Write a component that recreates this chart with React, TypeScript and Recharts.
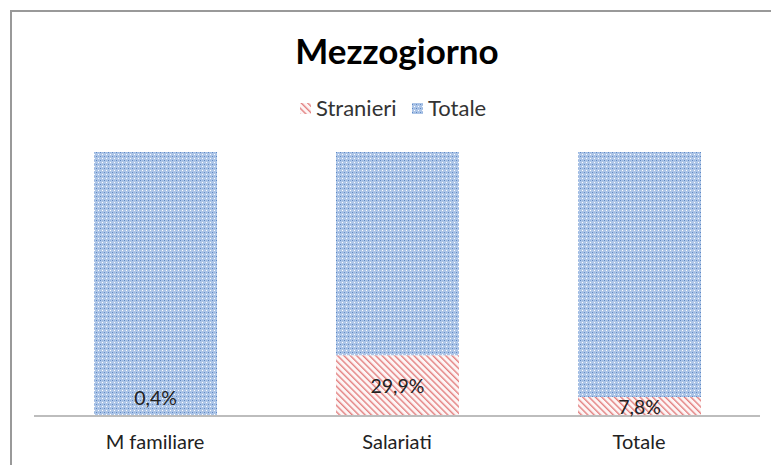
import { Bar, BarChart, Customized, LabelList, XAxis, YAxis } from "recharts";

const categories = ["M familiare", "Salariati", "Totale"];
const stranieri = [0.4, 29.9, 7.8];
const totale = [100, 100, 100];
const seriesNames = ["Stranieri", "Totale"];
const title = "Mezzogiorno";

const data = categories.map((name, i) => ({
  name,
  stranieri: stranieri[i],
  totale: totale[i],
}));

const FONT = "Lato, 'Open Sans', sans-serif";

const fmt = (v: number) => `${v.toFixed(1).replace(".", ",")}%`;

const renderLabel = (props: any) => {
  const { x, y, width, height, value } = props;
  const cx = Number(x) + Number(width) / 2;
  let cy = Number(y) + Number(height) / 2;
  if (Number(height) < 8) cy = Number(y) + Number(height) - 19;
  return (
    <text
      x={cx}
      y={cy}
      textAnchor="middle"
      dominantBaseline="central"
      fontFamily={FONT}
      fontSize={19.5}
      fill="#222"
    >
      {fmt(Number(value))}
    </text>
  );
};

const Header = () => (
  <g>
    <text
      x={397}
      y={64}
      textAnchor="middle"
      fontFamily={FONT}
      fontWeight="bold"
      fontSize={35}
      fill="#000"
    >
      {title}
    </text>
    <rect x={300} y={103} width={11} height={11} fill="url(#redHatch)" />
    <text x={316} y={116} fontFamily={FONT} fontSize={22} fill="#333">
      {seriesNames[0]}
    </text>
    <rect x={412} y={103} width={11} height={11} fill="url(#blueDots)" />
    <text x={428} y={116} fontFamily={FONT} fontSize={22} fill="#333">
      {seriesNames[1]}
    </text>
  </g>
);

export default function App() {
  return (
    <div
      style={{
        position: "absolute",
        left: 0,
        top: 0,
        width: 771,
        height: 465,
        overflow: "hidden",
        background: "#fff",
      }}
    >
      <div
        style={{
          position: "absolute",
          left: 10,
          top: 10,
          width: 800,
          height: 500,
          borderLeft: "2px solid #999",
          borderTop: "2px solid #999",
        }}
      />
      <div style={{ position: "absolute", left: 0, top: 0 }}>
        <BarChart
          width={771}
          height={465}
          data={data}
          stackOffset="expand"
          margin={{ top: 152, right: 11, bottom: 0, left: 34 }}
          barCategoryGap={0}
        >
          <defs>
            <pattern
              id="blueDots"
              width={4}
              height={4}
              patternUnits="userSpaceOnUse"
            >
              <rect width={4} height={4} fill="#adc5e7" />
              <rect x={0} y={0} width={1} height={1} fill="#5d88c4" />
              <rect x={2} y={2} width={1} height={1} fill="#ffffff" />
              <rect x={2} y={0} width={1} height={1} fill="#9ab7e0" />
            </pattern>
            <pattern
              id="redHatch"
              width={4.5}
              height={4.5}
              patternUnits="userSpaceOnUse"
              patternTransform="rotate(-45)"
            >
              <rect width={4.5} height={4.5} fill="#fdf5f5" />
              <rect x={0} y={0} width={1.4} height={4.5} fill="#e38080" />
            </pattern>
          </defs>
          <XAxis
            dataKey="name"
            height={49}
            tickLine={false}
            axisLine={{ stroke: "#bdbdbd", strokeWidth: 2 }}
            tick={{ fontFamily: FONT, fontSize: 20, fill: "#222" }}
            dy={11}
          />
          <YAxis hide domain={[0, 1]} />
          <Bar
            dataKey="stranieri"
            stackId="a"
            fill="url(#redHatch)"
            barSize={123}
            isAnimationActive={false}
          >
            <LabelList dataKey="stranieri" content={renderLabel} />
          </Bar>
          <Bar
            dataKey="totale"
            stackId="a"
            fill="url(#blueDots)"
            barSize={123}
            isAnimationActive={false}
          />
          <Customized component={Header} />
        </BarChart>
      </div>
    </div>
  );
}
